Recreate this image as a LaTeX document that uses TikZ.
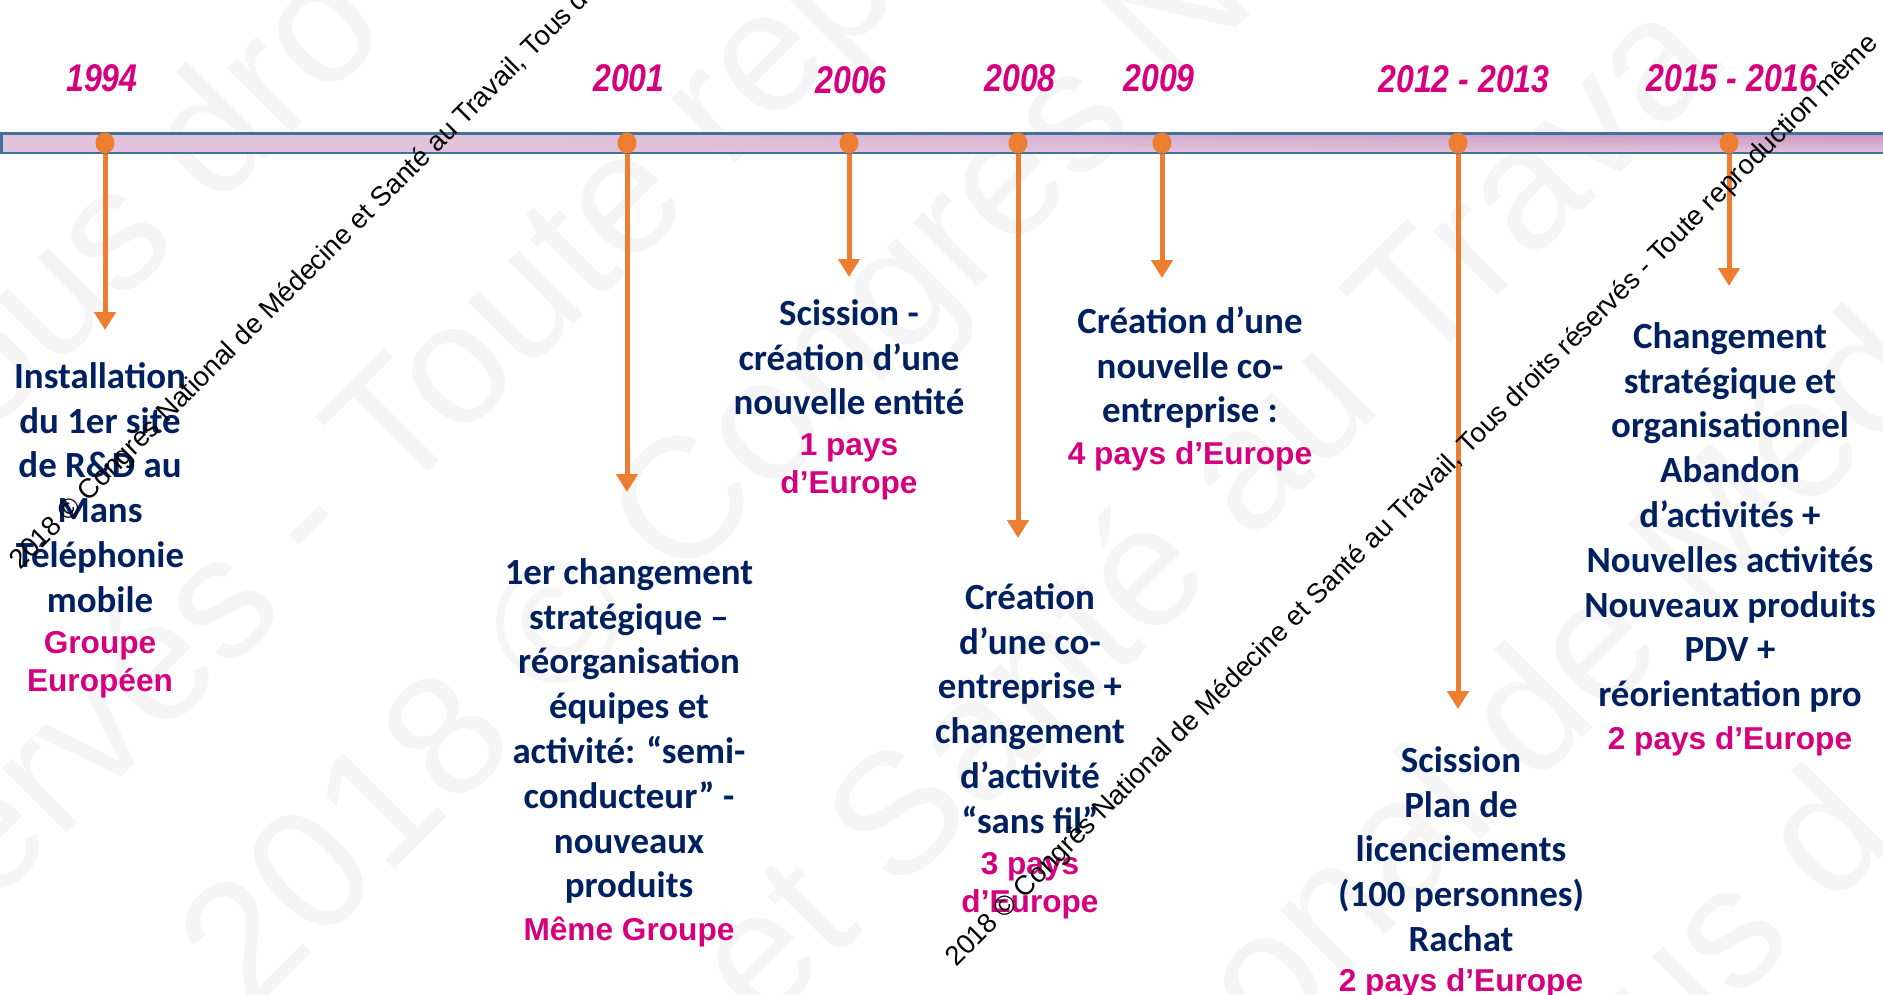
\documentclass[tikz,border=0pt]{standalone}
\usepackage{fontspec}
\setmainfont{Carlito}
\newfontfamily\arialfont{Liberation Sans}
\newfontfamily\yearfont[FakeStretch=0.83]{Liberation Sans}
\usetikzlibrary{arrows.meta,fadings}
\definecolor{navy}{RGB}{0,32,96}
\definecolor{rose}{RGB}{214,0,127}
\definecolor{orangeline}{RGB}{237,125,49}
\definecolor{barfill}{RGB}{225,196,220}
\definecolor{bardark}{RGB}{200,148,192}
\definecolor{barline}{RGB}{65,113,156}
\tikzfading[name=barfade, left color=transparent!100, right color=transparent!0]
\tikzset{
  year/.style={font=\yearfont\bfseries\itshape\fontsize{22}{26}\selectfont, text=rose, inner sep=0pt},
  desc/.style={font=\bfseries\fontsize{21}{25.5}\selectfont, text=navy, align=center, anchor=north, inner sep=0pt},
  pays/.style={font=\arialfont\bfseries\fontsize{18}{21.8}\selectfont, text=rose, align=center, anchor=north, inner sep=0pt},
  dot/.style={ellipse, fill=orangeline, minimum width=0.38cm, minimum height=0.42cm, inner sep=0pt},
  pin/.style={draw=orangeline, line width=0.1cm, -{Triangle[width=0.42cm,length=0.36cm]}},
  wm/.style={font=\arialfont\fontsize{15.6}{18}\selectfont, rotate=45, anchor=base west, inner sep=0pt},
  bigwm/.style={font=\arialfont\fontsize{98}{110}\selectfont, text=black!4, rotate=45, inner sep=0pt}
}
\usetikzlibrary{shapes.geometric}
\begin{document}
\begin{tikzpicture}[x=0.02cm,y=-0.02cm]
	\useasboundingbox (0,0) rectangle (1883,994);
	\clip (0,0) rectangle (1883,994);
	% faint background watermark
	\node[bigwm] (f1) at (145,193) {ous dro};
	\node[bigwm] (f2) at (415,420) {ervés - Toute rep};
	\node[bigwm] (f3) at (757,443) {2018 © Congrès Na};
	\node[bigwm] (f4) at (1200,505) {et Santé au Trava};
	\node[bigwm] (f5) at (1560,672) {onal de Méd};
	\node[bigwm] (f6) at (1740,912) {us d};
	% timeline
	\fill[barfill] (1.5,133.5) rectangle (1900,153);
	\shade[top color=bardark, bottom color=barfill, path fading=barfade] (500,133.5) rectangle (1900,153);
	\draw[barline, line width=0.055cm] (1.5,133.5) rectangle (1900,153);
	\node[year] (y1994) at (102,78) {1994};
	\node[year] (y2001) at (629,78) {2001};
	\node[year] (y2006) at (851,80) {2006};
	\node[year] (y2008) at (1020,78) {2008};
	\node[year] (y2009) at (1159,78) {2009};
	\node[year] (y2012) at (1464,79) {2012 - 2013};
	\node[year] (y2015) at (1732,78) {2015 - 2016};
	\node[dot] (d1994) at (105,143) {};
	\node[dot] (d2001) at (627,143) {};
	\node[dot] (d2006) at (849,143) {};
	\node[dot] (d2008) at (1018,143) {};
	\node[dot] (d2009) at (1162,143) {};
	\node[dot] (d2012) at (1458,143) {};
	\node[dot] (d2015) at (1729,143) {};
	\coordinate (e1994) at (105,330);
	\coordinate (e2001) at (627,492);
	\coordinate (e2006) at (849,277);
	\coordinate (e2008) at (1018,538);
	\coordinate (e2009) at (1162,278);
	\coordinate (e2012) at (1458,709);
	\coordinate (e2015) at (1729,286);
	\draw[pin] (d1994) -- (e1994);
	\draw[pin] (d2001) -- (e2001);
	\draw[pin] (d2006) -- (e2006);
	\draw[pin] (d2008) -- (e2008);
	\draw[pin] (d2009) -- (e2009);
	\draw[pin] (d2012) -- (e2012);
	\draw[pin] (d2015) -- (e2015);
	% events
	\node[desc] (t1994) at (100,362) {Installation\\du 1er site\\de R\&D au\\Mans\\Téléphonie\\mobile};
	\node[pays] (p1994) at (100,631) {Groupe\\Européen};
	\node[desc] (t2001) at (629,558) {1er changement\\stratégique –\\réorganisation\\équipes et\\activité: “semi-\\conducteur” -\\nouveaux\\produits};
	\node[pays] (p2001) at (629,917) {Même Groupe};
	\node[desc] (t2006) at (849,299) {Scission -\\création d’une\\nouvelle entité};
	\node[pays] (p2006) at (849,433) {1 pays\\d’Europe};
	\node[desc] (t2008) at (1030,583) {Création\\d’une co-\\entreprise +\\changement\\d’activité\\“sans fil”};
	\node[pays] (p2008) at (1030,852) {3 pays\\d’Europe};
	\node[desc] (t2009) at (1190,306) {Création d’une\\nouvelle co-\\entreprise :};
	\node[pays] (p2009) at (1190,441) {4 pays d’Europe};
	\node[desc] (t2012) at (1461,746) {Scission\\Plan de\\licenciements\\(100 personnes)\\Rachat};
	\node[pays] (p2012) at (1461,968) {2 pays d’Europe};
	\node[desc] (t2015) at (1730,322) {Changement\\stratégique et\\organisationnel\\Abandon\\d’activités +\\Nouvelles activités\\Nouveaux produits\\PDV +\\réorientation pro};
	\node[pays] (p2015) at (1730,726) {2 pays d’Europe};
	% copyright lines
	\node[wm] (w1) at (20,571) {2018 © Congrès National de Médecine et Santé au Travail, Tous droits réservés - Toute reproduction même};
	\node[wm] (w2) at (956,968) {2018 © Congrès National de Médecine et Santé au Travail, Tous droits réservés - Toute reproduction même};
\end{tikzpicture}
\end{document}
